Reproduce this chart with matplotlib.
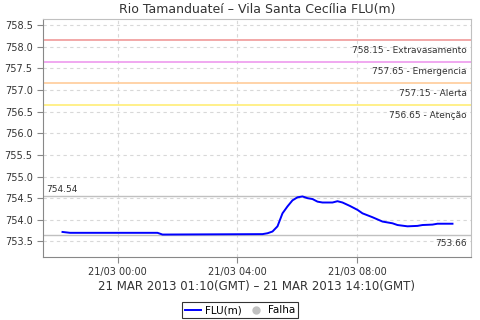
import matplotlib
matplotlib.use("Agg")
import matplotlib.pyplot as plt
import matplotlib.dates as mdates
from matplotlib.lines import Line2D
import pandas as pd

# level readings (local time, 20-21 Mar 2013)
times = ["2013-03-20 22:10", "2013-03-20 22:25", "2013-03-21 01:20", "2013-03-21 01:30",
         "2013-03-21 04:50", "2013-03-21 05:00", "2013-03-21 05:10", "2013-03-21 05:20",
         "2013-03-21 05:25", "2013-03-21 05:30", "2013-03-21 05:40", "2013-03-21 05:50",
         "2013-03-21 06:00", "2013-03-21 06:10", "2013-03-21 06:20", "2013-03-21 06:30",
         "2013-03-21 06:40", "2013-03-21 06:50", "2013-03-21 07:10", "2013-03-21 07:20",
         "2013-03-21 07:30", "2013-03-21 07:45", "2013-03-21 08:00", "2013-03-21 08:10",
         "2013-03-21 08:30", "2013-03-21 08:50", "2013-03-21 09:10", "2013-03-21 09:20",
         "2013-03-21 09:40", "2013-03-21 10:00", "2013-03-21 10:10", "2013-03-21 10:30",
         "2013-03-21 10:40", "2013-03-21 11:10"]
flu = [753.72, 753.70, 753.70, 753.66,
       753.67, 753.69, 753.73, 753.85,
       754.00, 754.15, 754.31, 754.45,
       754.52, 754.54, 754.50, 754.48,
       754.42, 754.40, 754.40, 754.43,
       754.40, 754.32, 754.23, 754.15,
       754.06, 753.96, 753.92, 753.88,
       753.85, 753.86, 753.88, 753.89,
       753.91, 753.91]

limits = [758.15, 757.65, 757.15, 756.65]
limit_names = ["Extravasamento", "Emergencia", "Alerta", "Atenção"]
limit_colors = ["#f09a9a", "#ee99ee", "#ffcc99", "#ffee77"]
vmax, vmin = 754.54, 753.66

t = pd.to_datetime(times)

fig = plt.figure(figsize=(4.8, 3.2), dpi=100)
ax = fig.add_axes([0.0896, 0.198, 0.8916, 0.743])

for v, name, c in zip(limits, limit_names, limit_colors):
    ax.axhline(v, color=c, lw=1.2, zorder=2)
    ax.annotate("%.2f - %s" % (v, name), xy=(1, v), xycoords=("axes fraction", "data"),
                xytext=(-3, -4), textcoords="offset points", ha="right", va="top",
                fontsize=6.5, color="#333333")

ax.axhline(vmax, color="#c0c0c0", lw=1, zorder=2)
ax.axhline(vmin, color="#c0c0c0", lw=1, zorder=2)
ax.annotate("%.2f" % vmax, xy=(0, vmax), xycoords=("axes fraction", "data"),
            xytext=(2, 2), textcoords="offset points", ha="left", va="bottom",
            fontsize=6.5, color="#333333")
ax.annotate("%.2f" % vmin, xy=(1, vmin), xycoords=("axes fraction", "data"),
            xytext=(-3, -3), textcoords="offset points", ha="right", va="top",
            fontsize=6.5, color="#333333")

ax.plot(t, flu, color="#0000ff", lw=1.4, zorder=3)

ax.set_xlim(pd.Timestamp("2013-03-20 21:31"), pd.Timestamp("2013-03-21 11:47"))
ax.set_ylim(753.15, 758.64)
ax.set_yticks([753.5 + 0.5 * i for i in range(11)])
ax.yaxis.set_major_formatter(matplotlib.ticker.FormatStrFormatter("%.1f"))
ax.xaxis.set_major_locator(mdates.HourLocator(byhour=[0, 4, 8]))
ax.xaxis.set_major_formatter(mdates.DateFormatter("%d/%m %H:%M"))
ax.tick_params(labelsize=7, length=4, color="#888888", labelcolor="#333333")
ax.grid(True, color="#d8d8d8", ls=(0, (3, 3)), lw=0.8)
ax.set_axisbelow(True)
for s in ["left", "bottom"]:
    ax.spines[s].set_color("#888888")
for s in ["top", "right"]:
    ax.spines[s].set_color("#c0c0c0")

ax.set_title("Rio Tamanduateí – Vila Santa Cecília FLU(m)", fontsize=9, color="#333333", pad=4)
ax.set_xlabel("21 MAR 2013 01:10(GMT) – 21 MAR 2013 14:10(GMT)", fontsize=8.5,
              color="#333333", labelpad=2)

handles = [Line2D([], [], color="#0000ff", lw=1.4),
           Line2D([], [], color="#c0c0c0", marker="o", ls="none", markersize=5)]
leg = fig.legend(handles, ["FLU(m)", "Falha"], loc="lower center", bbox_to_anchor=(0.5, 0.005),
                 ncol=2, fontsize=7.5, frameon=True, fancybox=False, handlelength=1.5,
                 handletextpad=0.4, columnspacing=0.6, borderpad=0.3, borderaxespad=0)
leg.get_frame().set_edgecolor("black")
leg.get_frame().set_linewidth(0.8)

fig.savefig("out.png", dpi=100)
